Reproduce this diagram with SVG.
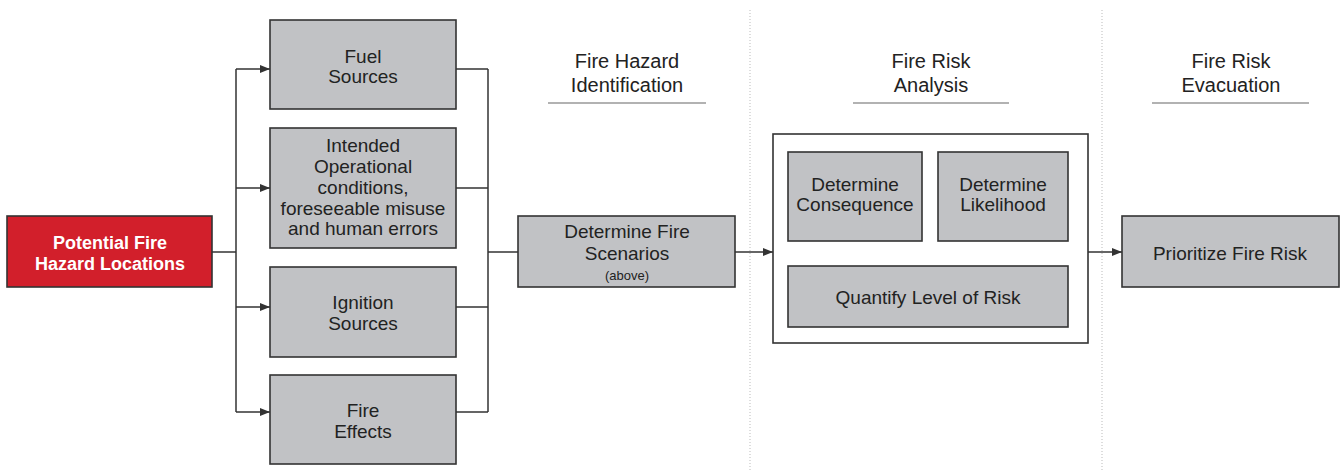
<svg xmlns="http://www.w3.org/2000/svg" width="1344" height="470" viewBox="0 0 1344 470">
<style>
.box{fill:#c1c2c5;stroke:#333;stroke-width:1.6}
.t{font-family:"Liberation Sans",Arial,sans-serif;font-size:19px;fill:#222;text-anchor:middle}
.h{font-family:"Liberation Sans",Arial,sans-serif;font-size:20px;fill:#222;text-anchor:middle}
.w{font-family:"Liberation Sans",Arial,sans-serif;font-size:18px;font-weight:bold;fill:#fff;text-anchor:middle}
.c{fill:none;stroke:#333;stroke-width:1.5}
.sep{stroke:#bbb;stroke-width:1;stroke-dasharray:1 2}
.ul{stroke:#666;stroke-width:1.2}
</style>
<defs>
<marker id="ah" viewBox="0 0 10 8" refX="10" refY="4" markerWidth="10" markerHeight="8" markerUnits="userSpaceOnUse" orient="auto">
<path d="M0,0 L10,4 L0,8 Z" fill="#333"/>
</marker>
</defs>
<rect width="1344" height="470" fill="#fff"/>
<g id="separators">
<line class="sep" x1="750" y1="10" x2="750" y2="470"/>
<line class="sep" x1="1102" y1="10" x2="1102" y2="470"/>
</g>
<g id="headers">
<text class="h" x="627" y="68">Fire Hazard</text>
<text class="h" x="627" y="92">Identification</text>
<line class="ul" x1="548" y1="103" x2="706" y2="103"/>
<text class="h" x="931" y="68">Fire Risk</text>
<text class="h" x="931" y="92">Analysis</text>
<line class="ul" x1="853" y1="103" x2="1009" y2="103"/>
<text class="h" x="1231" y="68">Fire Risk</text>
<text class="h" x="1231" y="92">Evacuation</text>
<line class="ul" x1="1152" y1="103" x2="1309" y2="103"/>
</g>
<g id="connectors">
<path class="c" d="M212,252 H236"/>
<path class="c" d="M236,69 V412"/>
<path class="c" d="M236,69 H270" marker-end="url(#ah)"/>
<path class="c" d="M236,188 H270" marker-end="url(#ah)"/>
<path class="c" d="M236,307 H270" marker-end="url(#ah)"/>
<path class="c" d="M236,412 H270" marker-end="url(#ah)"/>
<path class="c" d="M456,69 H488 M456,188 H488 M456,307 H488 M456,412 H488"/>
<path class="c" d="M488,69 V412"/>
<path class="c" d="M488,252 H518"/>
<path class="c" d="M735,252 H773" marker-end="url(#ah)"/>
<path class="c" d="M862,241 V266" marker-end="url(#ah)"/>
<path class="c" d="M1003,241 V266" marker-end="url(#ah)"/>
<path class="c" d="M1088,252 H1122" marker-end="url(#ah)"/>
</g>
<g id="potential">
<rect x="7" y="216" width="205" height="71" fill="#d21f2b" stroke="#333" stroke-width="1.6"/>
<text class="w" x="110" y="249">Potential Fire</text>
<text class="w" x="110" y="270">Hazard Locations</text>
</g>
<g id="fuel">
<rect class="box" x="270" y="20" width="186" height="89"/>
<text class="t" x="363" y="63">Fuel</text>
<text class="t" x="363" y="83">Sources</text>
</g>
<g id="intended">
<rect class="box" x="270" y="128" width="186" height="120"/>
<text class="t" x="363" y="152">Intended</text>
<text class="t" x="363" y="173">Operational</text>
<text class="t" x="363" y="194">conditions,</text>
<text class="t" x="363" y="215">foreseeable misuse</text>
<text class="t" x="363" y="235">and human errors</text>
</g>
<g id="ignition">
<rect class="box" x="270" y="267" width="186" height="90"/>
<text class="t" x="363" y="309">Ignition</text>
<text class="t" x="363" y="330">Sources</text>
</g>
<g id="effects">
<rect class="box" x="270" y="375" width="186" height="89"/>
<text class="t" x="363" y="417">Fire</text>
<text class="t" x="363" y="438">Effects</text>
</g>
<g id="scenarios">
<rect class="box" x="518" y="216" width="217" height="71"/>
<text class="t" x="627" y="238">Determine Fire</text>
<text class="t" x="627" y="260">Scenarios</text>
<text class="t" x="627" y="280" style="font-size:13px">(above)</text>
</g>
<g id="analysis">
<rect x="773" y="134" width="315" height="209" fill="#fff" stroke="#333" stroke-width="1.6"/>
</g>
<g id="consequence">
<rect class="box" x="788" y="152" width="134" height="89"/>
<text class="t" x="855" y="191">Determine</text>
<text class="t" x="855" y="211">Consequence</text>
</g>
<g id="likelihood">
<rect class="box" x="938" y="152" width="130" height="89"/>
<text class="t" x="1003" y="191">Determine</text>
<text class="t" x="1003" y="211">Likelihood</text>
</g>
<g id="quantify">
<rect class="box" x="788" y="266" width="280" height="61"/>
<text class="t" x="928" y="304">Quantify Level of Risk</text>
</g>
<g id="prioritize">
<rect class="box" x="1122" y="216" width="217" height="71"/>
<text class="t" x="1230" y="260">Prioritize Fire Risk</text>
</g>
</svg>
